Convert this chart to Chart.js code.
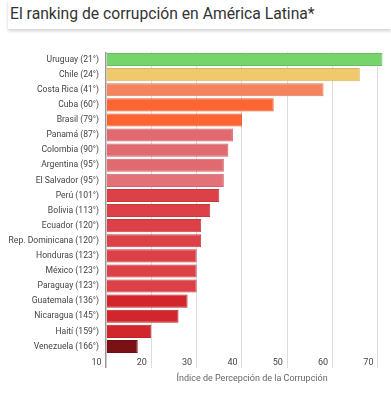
<!DOCTYPE html>
<html><head><meta charset="utf-8">
<script src="https://cdn.jsdelivr.net/npm/chart.js@4/dist/chart.umd.min.js"></script>
<style>
html,body{margin:0;padding:0;background:#fff;width:391px;height:400px;overflow:hidden;font-family:Roboto,sans-serif}
#hdr{position:absolute;left:8px;top:0;width:383px;height:29px;box-shadow:0 2px 3px rgba(0,0,0,0.18);background:#fff}
#ttl{position:absolute;left:2px;top:4px;font-size:15.7px;color:#333;white-space:nowrap}
#wrap{position:absolute;left:0;top:36px;width:391px;height:364px}
</style></head><body>
<div id="hdr"><div id="ttl">El ranking de corrupción en América Latina*</div></div>
<div id="wrap"><canvas id="c"></canvas></div>
<script>
const countries = ["Uruguay","Chile","Costa Rica","Cuba","Brasil","Panamá","Colombia","Argentina","El Salvador","Perú","Bolivia","Ecuador","Rep. Dominicana","Honduras","México","Paraguay","Guatemala","Nicaragua","Haití","Venezuela"];
const ranks = [21,24,41,60,79,87,90,95,95,101,113,120,120,123,123,123,136,145,159,166];
const cpiScores = [71,66,58,47,40,38,37,36,36,35,33,31,31,30,30,30,28,26,20,17];
const barColors = ["#77d36b","#efc96b","#f5835e","#fd6532","#fd6532","#e06a70","#e06a70","#e06a70","#e37177","#dc4148","#dc4148","#dc4148","#dc4148","#dc4148","#dc4148","#dc4148","#d1262c","#d1262c","#d1262c","#7b1115"];
const xTicks = [10,20,30,40,50,60,70];
const axisTitle = "Índice de Percepción de la Corrupción";

const labels = countries.map((c,i)=>`${c} (${ranks[i]}°)`);
function darker(hex){const n=parseInt(hex.slice(1),16);const f=0.9;return `rgb(${Math.round((n>>16)*f)},${Math.round(((n>>8)&255)*f)},${Math.round((n&255)*f)})`;}

new Chart(document.getElementById('c'),{
  type:'bar',
  data:{labels:labels,datasets:[{data:cpiScores,backgroundColor:barColors,borderColor:barColors.map(darker),borderWidth:1,barPercentage:0.87,categoryPercentage:1,base:10}]},
  options:{
    indexAxis:'y',responsive:true,maintainAspectRatio:false,animation:false,
    layout:{padding:{top:16,right:4,left:0,bottom:0}},
    plugins:{legend:{display:false},tooltip:{enabled:false}},
    scales:{
      x:{min:10,max:72,
        afterBuildTicks:s=>{s.ticks=xTicks.map(v=>({value:v}));},
        afterFit:s=>{s.height=46;},
        grid:{color:ctx=>ctx.tick&&ctx.tick.value===10?'#999':'#dcdcdc',lineWidth:ctx=>ctx.tick&&ctx.tick.value===10?1.5:1,tickLength:14,drawTicks:true},
        border:{display:false},
        ticks:{align:'end',padding:-11,color:'#444',font:{family:'Roboto',size:9},callback:v=>v+'  ',maxRotation:0},
        title:{display:true,text:'     '+axisTitle,color:'#666',font:{family:'Roboto',size:9},padding:{top:0,bottom:16}}
      },
      y:{
        afterFit:s=>{s.width=106;},
        grid:{display:false,drawTicks:false},
        border:{display:false},
        ticks:{color:'#444',font:{family:'Roboto',size:8.6},padding:7,autoSkip:false}
      }
    }
  }
});
</script>
</body></html>
